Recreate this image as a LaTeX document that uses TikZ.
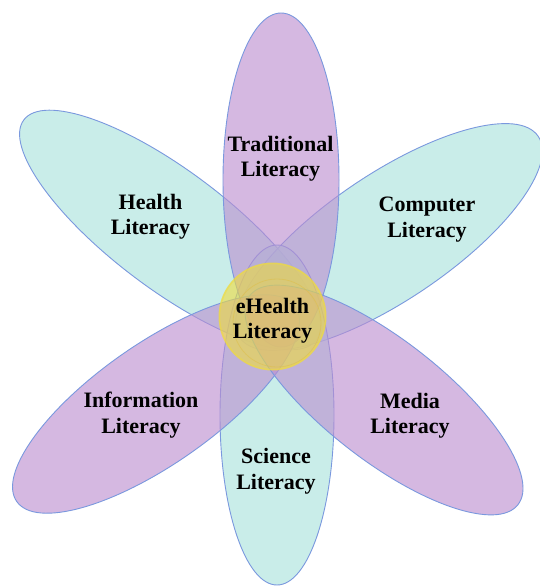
\documentclass[tikz,border=0pt]{standalone}
\usepackage{fontspec}
\setmainfont{Liberation Serif}
\definecolor{petpurple}{RGB}{188,142,208}
\definecolor{petcyan}{RGB}{168,226,220}
\definecolor{edgeblue}{RGB}{122,152,222}
\definecolor{eyellow}{RGB}{240,220,60}
\definecolor{eyellowdark}{RGB}{222,190,70}
\begin{document}
\begin{tikzpicture}[x={(1pt,0pt)},y={(0pt,-1pt)},
  petal/.style={draw=edgeblue, line width=0.9pt, fill opacity=0.62},
  purplepetal/.style={petal, fill=petpurple},
  cyanpetal/.style={petal, fill=petcyan},
  lbl/.style={font=\bfseries\fontsize{22}{25.5}\selectfont, align=center, text=black, inner sep=0pt}]
\useasboundingbox (0,0) rectangle (539,586);
\fill[white] (0,0) rectangle (539,586);
% cyan petals
\draw[cyanpetal, rotate around={-37:(170,230)}] (170,230) ellipse [x radius=183, y radius=59];
\draw[cyanpetal, rotate around={34:(389,237)}] (389,237) ellipse [x radius=180, y radius=63];
\draw[cyanpetal] (277,415) ellipse [x radius=57, y radius=170];
% purple petals
\draw[purplepetal] (281,180) ellipse [x radius=58, y radius=167];
\draw[purplepetal, rotate around={35:(156,404)}] (156,404) ellipse [x radius=170, y radius=60];
\draw[purplepetal, rotate around={-38:(384,400)}] (384,400) ellipse [x radius=170, y radius=60];
% centre circle
\fill[eyellow, fill opacity=0.6] (272.5,316.5) circle [radius=54];
\draw[eyellow, draw opacity=0.5, line width=1.5pt] (272.5,316.5) circle [radius=53];
\draw[eyellowdark, draw opacity=0.5, line width=0.8pt] (277,323) circle [radius=44];
% labels
\node[lbl] (trad) at (280.5,158.5) {Traditional\\Literacy};
\node[lbl] (health) at (150.5,216.5) {Health\\Literacy};
\node[lbl] (comp) at (427,219.5) {Computer\\Literacy};
\node[lbl] (ehealth) at (272.5,320.5) {eHealth\\Literacy};
\node[lbl] (info) at (141,415) {Information\\Literacy};
\node[lbl] (media) at (410,415.5) {Media\\Literacy};
\node[lbl] (sci) at (276,471) {Science\\Literacy};
\end{tikzpicture}
\end{document}
